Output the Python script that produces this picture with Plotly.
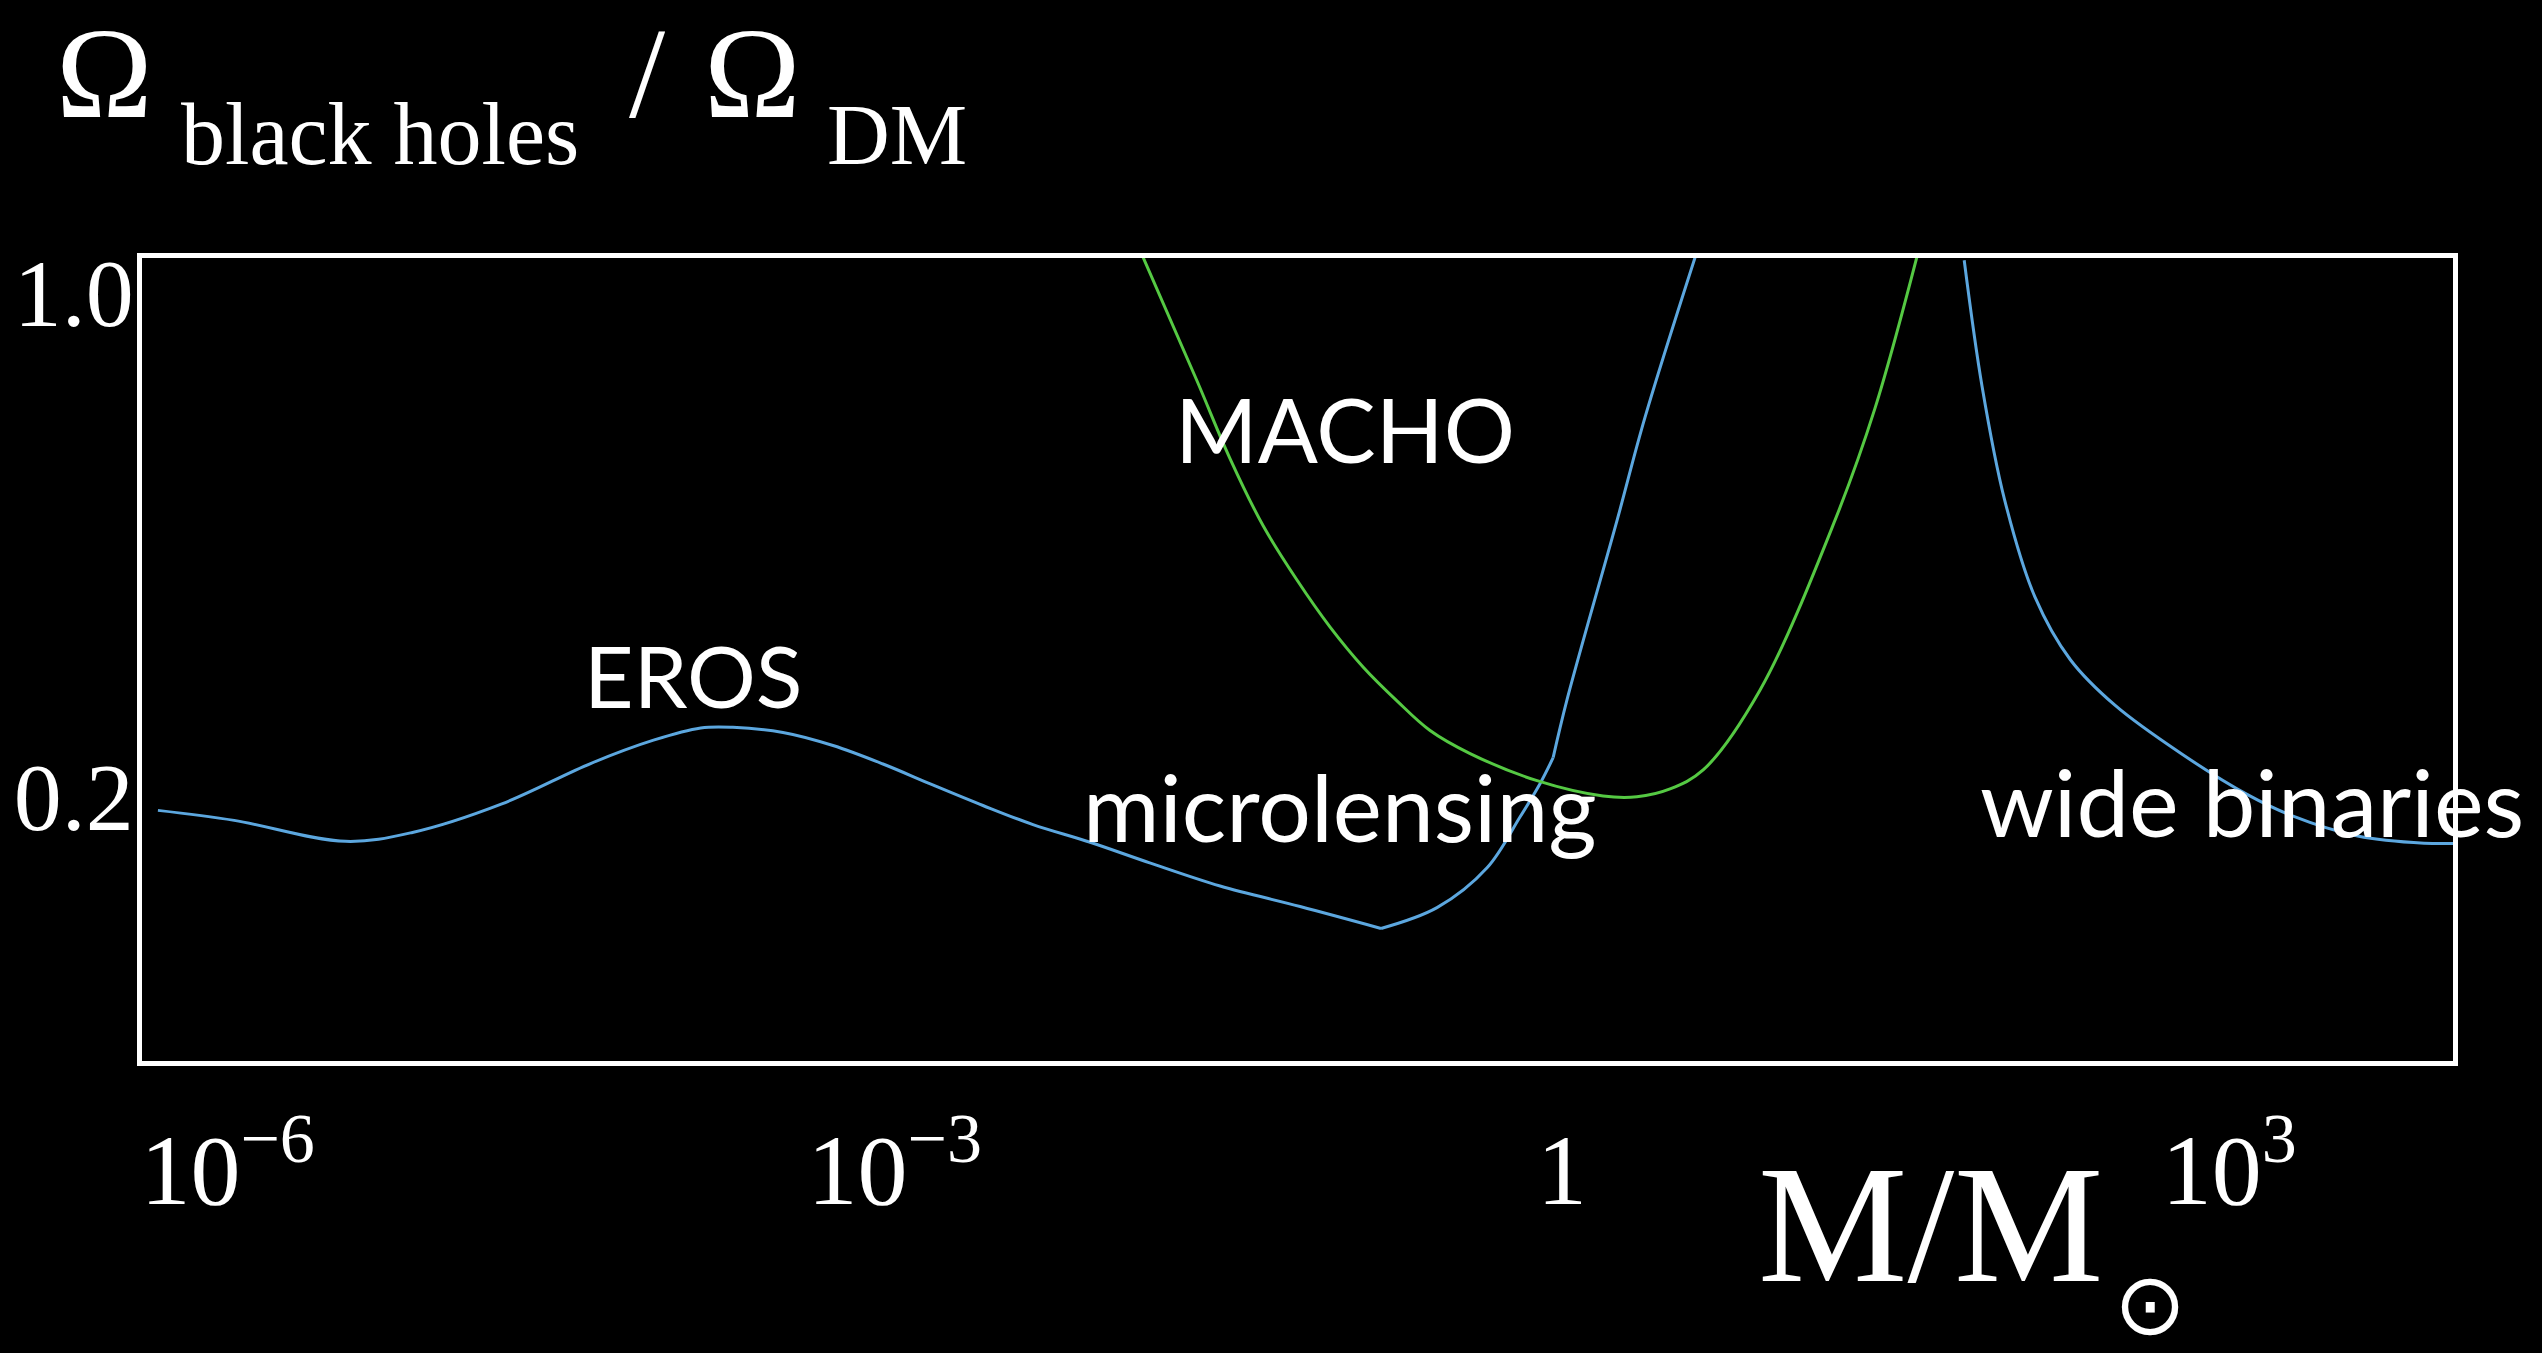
import plotly.graph_objects as go

# Upper limits on the black-hole fraction of dark matter versus mass (schematic)
# Mass in solar masses, fraction Omega_bh / Omega_DM

# EROS / MACHO microlensing limit (blue), kinks at index 19 and 24
eros_mass = [4.86e-7, 1.07e-6, 3.39e-6, 6.78e-6, 1.71e-5, 4.31e-5, 8.22e-5, 1.34e-4,
             1.87e-4, 3.14e-4, 5.27e-4, 8.85e-4, 1.49e-3, 2.49e-3, 4.18e-3, 7.55e-3,
             1.40e-2, 2.90e-2, 6.64e-2, 0.1535, 0.274, 0.460, 0.647, 0.796, 0.912,
             1.053, 1.77, 2.36, 4.05]
eros_frac = [0.191, 0.185, 0.173, 0.178, 0.195, 0.222, 0.239, 0.2485,
             0.249, 0.245, 0.235, 0.2215, 0.207, 0.194, 0.1825, 0.1725,
             0.1615, 0.150, 0.1405, 0.131, 0.140, 0.159, 0.187, 0.208, 0.226,
             0.272, 0.483, 0.670, 1.14]
eros_kinks = [19, 24]

# MACHO limit (green)
macho_mass = [0.01253, 0.02275, 0.0321, 0.0453, 0.0643, 0.0906, 0.1274, 0.181,
              0.255, 0.386, 0.772, 1.529, 2.17, 3.06, 4.31, 7.77, 16.9, 25.5, 39.5]
macho_frac = [1.151, 0.755, 0.588, 0.474, 0.3986, 0.343, 0.302, 0.2710,
              0.2465, 0.2290, 0.2100, 0.2000, 0.1995, 0.2046, 0.2173, 0.2805,
              0.483, 0.689, 1.122]

# Wide-binary limit (blue)
binary_mass = [64.3, 77.3, 97.7, 134, 193, 307, 607, 1202, 1897, 3776, 7516, 11560]
binary_frac = [1.107, 0.741, 0.515, 0.377, 0.309, 0.267, 0.229, 0.201, 0.188,
               0.176, 0.172, 0.172]

# Axis ticks
x_tickvals = [1e-6, 1e-3, 1, 1e3]
x_ticktext = ["10<sup>\u22126</sup>", "10<sup>\u22123</sup>", "1", "10<sup>3</sup>"]
y_tickvals = [0.2, 1.0]
y_ticktext = ["0.2", "1.0"]

# Curve labels: (text, log10 mass, log10 fraction, font size)
labels = [
    ("MACHO", -0.976, -0.1895, 89),
    ("EROS", -3.907, -0.531, 86),
    ("microlensing", -0.998, -0.713, 93),
    ("wide binaries", 3.100, -0.7054, 94),
]

BLUE = "#5CA7DF"
GREEN = "#55C943"
SERIF = "Liberation Serif, Times New Roman, serif"
SANS = "Lato, Open Sans, sans-serif"

W, H = 2542, 1353
L, R, T, B = 142, 89, 258, 292
PW, PH = W - L - R, H - T - B

fig = go.Figure()

# blue EROS curve drawn in pieces so the kinks stay sharp
cuts = [0] + eros_kinks + [len(eros_mass) - 1]
for a, b in zip(cuts[:-1], cuts[1:]):
    fig.add_trace(go.Scatter(
        x=eros_mass[a:b + 1], y=eros_frac[a:b + 1], mode="lines",
        line=dict(color=BLUE, width=3, shape="spline", smoothing=1.0),
        hoverinfo="skip"))

fig.add_trace(go.Scatter(
    x=macho_mass, y=macho_frac, mode="lines",
    line=dict(color=GREEN, width=3, shape="spline", smoothing=1.0),
    hoverinfo="skip"))

fig.add_trace(go.Scatter(
    x=binary_mass, y=binary_frac, mode="lines",
    line=dict(color=BLUE, width=3, shape="spline", smoothing=1.0),
    hoverinfo="skip"))

annotations = []
for text, lx, ly, size in labels:
    annotations.append(dict(
        text=text, x=lx, y=ly, xref="x", yref="y", showarrow=False,
        xanchor="center", yanchor="middle",
        font=dict(family=SANS, size=size, color="white")))


def px(xp, yp):
    """Convert page pixels to paper coordinates of the plot area."""
    return (xp - L) / PW, (H - B - yp) / PH


# y-axis title: Omega_black holes / Omega_DM, and x-axis title M / M_sun
# (xp, yp) is the anchor point in page pixels
title_parts = [
    ("\u03a9", 55, 0, 130, SERIF, "left", "top"),
    ("black holes", 180, 134, 88, SERIF, "left", "middle"),
    ("/", 628, 0, 130, SERIF, "left", "top"),
    ("\u03a9", 703, 0, 130, SERIF, "left", "top"),
    ("DM", 826, 134, 87, SERIF, "left", "middle"),
    ("M/M", 1757, 1224, 168, SERIF, "left", "middle"),
    ("\u2299", 2150, 1304, 86, "DejaVu Sans", "center", "middle"),
]
for text, xp, yp, size, fam, xa, ya in title_parts:
    ax_, ay_ = px(xp, yp)
    annotations.append(dict(
        text=text, x=ax_, y=ay_, xref="paper", yref="paper", showarrow=False,
        xanchor=xa, yanchor=ya, borderpad=0,
        font=dict(family=fam, size=size, color="white")))

fig.update_layout(
    width=W, height=H, autosize=False,
    margin=dict(l=L, r=R, t=T, b=B, pad=0),
    paper_bgcolor="black", plot_bgcolor="black",
    showlegend=False, hovermode=False,
    annotations=annotations,
    xaxis=dict(
        type="log", range=[-6.385, 4.006], automargin=False,
        tickvals=x_tickvals, ticktext=x_ticktext, ticks="",
        ticklabelstandoff=18,
        tickfont=dict(family=SERIF, size=100, color="white"),
        showgrid=False, zeroline=False,
        showline=True, mirror=True, linecolor="white", linewidth=5),
    yaxis=dict(
        type="log", range=[-1.0666, 0.0472], automargin=False,
        tickvals=y_tickvals, ticktext=y_ticktext, ticks="",
        ticklabelstandoff=-16,
        tickfont=dict(family=SERIF, size=96, color="white"),
        showgrid=False, zeroline=False,
        showline=True, mirror=True, linecolor="white", linewidth=5),
)

fig.write_html("out.html", config={"displayModeBar": False})
